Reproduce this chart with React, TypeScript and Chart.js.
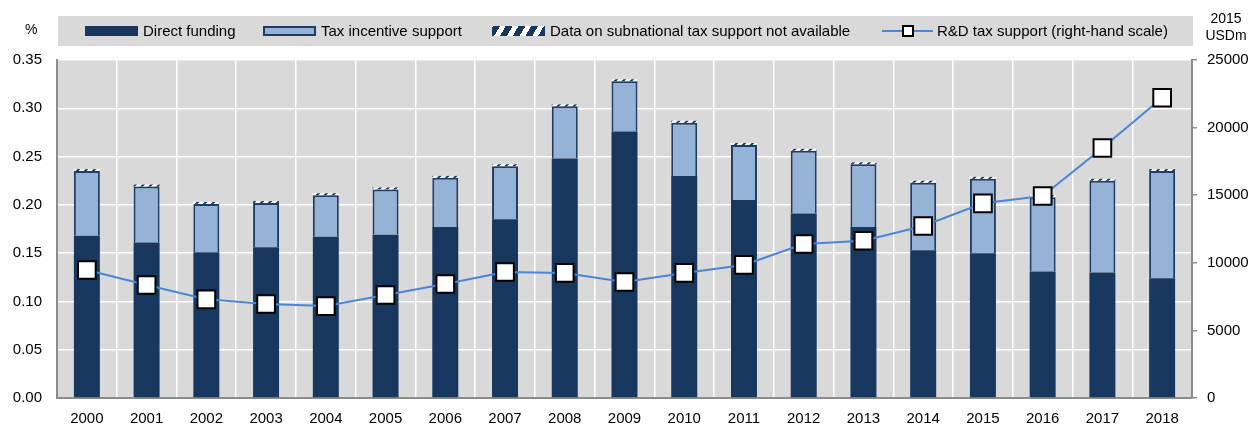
import React, { useEffect, useRef } from "react";
import { Chart, registerables } from "chart.js";

Chart.register(...registerables);

const years = ["2000", "2001", "2002", "2003", "2004", "2005", "2006", "2007", "2008", "2009", "2010", "2011", "2012", "2013", "2014", "2015", "2016", "2017", "2018"];
const directFunding = [0.168, 0.161, 0.151, 0.156, 0.167, 0.169, 0.177, 0.185, 0.248, 0.276, 0.230, 0.205, 0.191, 0.177, 0.153, 0.150, 0.131, 0.130, 0.124];
const taxIncentiveSupport = [0.067, 0.058, 0.050, 0.046, 0.043, 0.047, 0.051, 0.055, 0.054, 0.052, 0.055, 0.057, 0.065, 0.065, 0.070, 0.077, 0.077, 0.095, 0.111];
const subnationalNotAvailable = [0.002, 0.002, 0.002, 0.002, 0.002, 0.002, 0.002, 0.002, 0.002, 0.002, 0.002, 0.002, 0.002, 0.002, 0.002, 0.002, 0.002, 0.002, 0.002];
const rdTaxSupport = [9470, 8360, 7300, 6950, 6800, 7620, 8430, 9320, 9250, 8580, 9250, 9840, 11390, 11630, 12720, 14400, 14940, 18490, 22210];
const leftTicks = { min: 0, max: 0.35, step: 0.05 };
const rightTicks = { min: 0, max: 25000, step: 5000 };

const NAVY = "#17375e";
const LIGHT = "#95b3d7";
const LINE = "#4a86d6";
const FONT = "'Liberation Sans', Arial, sans-serif";

function makeHatch(): CanvasPattern | string {
  const c = document.createElement("canvas");
  c.width = 8;
  c.height = 8;
  const g = c.getContext("2d");
  if (!g) return NAVY;
  g.fillStyle = "#ffffff";
  g.fillRect(0, 0, 8, 8);
  g.strokeStyle = NAVY;
  g.lineWidth = 2;
  g.beginPath();
  g.moveTo(0, 8);
  g.lineTo(8, 0);
  g.moveTo(-4, 4);
  g.lineTo(4, -4);
  g.moveTo(4, 12);
  g.lineTo(12, 4);
  g.stroke();
  const p = g.createPattern(c, "repeat");
  return p || NAVY;
}

const bgPlugin = {
  id: "plotBg",
  beforeDraw(chart: any) {
    const { ctx, chartArea: a } = chart;
    ctx.save();
    ctx.fillStyle = "#d9d9d9";
    ctx.fillRect(a.left, a.top, a.right - a.left, a.bottom - a.top);
    ctx.restore();
  },
};

export default function App() {
  const ref = useRef<HTMLCanvasElement | null>(null);

  useEffect(() => {
    if (!ref.current) return;
    const font = { family: FONT, size: 15 };
    const chart = new Chart(ref.current, {
      type: "bar",
      data: {
        labels: years,
        datasets: [
          {
            type: "line",
            label: "R&D tax support (right-hand scale)",
            data: rdTaxSupport,
            yAxisID: "y1",
            borderColor: LINE,
            borderWidth: 2,
            pointStyle: "rect",
            pointRadius: 12.5,
            pointBackgroundColor: "#ffffff",
            pointBorderColor: "#000000",
            pointBorderWidth: 2,
            tension: 0,
            order: 0,
          } as any,
          {
            label: "Direct funding",
            data: directFunding,
            backgroundColor: NAVY,
            borderColor: NAVY,
            borderWidth: 0,
            yAxisID: "y",
            stack: "s",
            order: 1,
            barPercentage: 0.435,
            categoryPercentage: 1,
          },
          {
            label: "Tax incentive support",
            data: taxIncentiveSupport,
            backgroundColor: LIGHT,
            borderColor: "#1f3c66",
            borderWidth: 2,
            yAxisID: "y",
            stack: "s",
            order: 1,
            barPercentage: 0.435,
            categoryPercentage: 1,
          },
          {
            label: "Data on subnational tax support not available",
            data: subnationalNotAvailable,
            backgroundColor: makeHatch() as any,
            borderWidth: 0,
            yAxisID: "y",
            stack: "s",
            order: 1,
            barPercentage: 0.435,
            categoryPercentage: 1,
          },
        ],
      },
      options: {
        responsive: false,
        animation: false,
        layout: { padding: { top: 60, left: 0, right: 0, bottom: 0 } },
        plugins: {
          legend: { display: false },
          tooltip: { enabled: false },
          title: { display: false },
        },
        scales: {
          x: {
            stacked: true,
            offset: true,
            grid: { offset: true, color: "#ffffff", lineWidth: 1.5, drawTicks: false },
            border: { display: true, color: "#8c8c8c", width: 2 },
            ticks: { color: "#000", font, padding: 12, maxRotation: 0, autoSkip: false },
            afterFit: (s: any) => {
              s.height = 30;
            },
          },
          y: {
            position: "left",
            stacked: true,
            min: leftTicks.min,
            max: leftTicks.max,
            ticks: {
              stepSize: leftTicks.step,
              color: "#000",
              font,
              padding: 15,
              callback: (v: any) => Number(v).toFixed(2),
            },
            grid: { color: "#ffffff", lineWidth: 1.5, drawTicks: false },
            border: { display: true, color: "#8c8c8c", width: 2 },
            afterFit: (s: any) => {
              s.width = 57;
            },
          },
          y1: {
            position: "right",
            min: rightTicks.min,
            max: rightTicks.max,
            ticks: {
              stepSize: rightTicks.step,
              color: "#000",
              font,
              padding: 10,
              callback: (v: any) => String(v),
            },
            grid: { drawOnChartArea: false, drawTicks: true, tickLength: 5, color: "#8c8c8c", lineWidth: 1.5 },
            border: { display: true, color: "#8c8c8c", width: 2 },
            afterFit: (s: any) => {
              s.width = 61;
            },
          },
        },
      } as any,
      plugins: [bgPlugin],
    });
    return () => chart.destroy();
  }, []);

  const txt: React.CSSProperties = {
    position: "absolute",
    top: 16,
    height: 30,
    lineHeight: "30px",
    fontFamily: FONT,
    fontSize: 15,
    color: "#000",
    whiteSpace: "nowrap",
  };

  return (
    <div style={{ position: "fixed", left: 0, top: 0, width: 1253, height: 428, background: "#fff", overflow: "hidden" }}>
      <canvas ref={ref} width={1253} height={428} style={{ position: "absolute", left: 0, top: 0, width: 1253, height: 428 }} />
      <div style={{ position: "absolute", left: 58, top: 16, width: 1135, height: 30, background: "#d9d9d9" }} />
      <div style={{ position: "absolute", left: 85, top: 26, width: 53, height: 10, background: NAVY }} />
      <div style={{ ...txt, left: 143 }}>Direct funding</div>
      <div style={{ position: "absolute", left: 263, top: 26, width: 53, height: 10, background: LIGHT, border: "2px solid #1f3c66", boxSizing: "border-box" }} />
      <div style={{ ...txt, left: 321 }}>Tax incentive support</div>
      <div
        style={{
          position: "absolute",
          left: 492,
          top: 26,
          width: 53,
          height: 10,
          background: `repeating-linear-gradient(-60deg, ${NAVY} 0px, ${NAVY} 6px, #ffffff 6px, #ffffff 11px)`,
        }}
      />
      <div style={{ ...txt, left: 550 }}>Data on subnational tax support not available</div>
      <div style={{ position: "absolute", left: 882, top: 30, width: 51, height: 2, background: LINE }} />
      <div style={{ position: "absolute", left: 902, top: 25, width: 12, height: 12, background: "#fff", border: "2px solid #000", boxSizing: "border-box" }} />
      <div style={{ ...txt, left: 937 }}>R&amp;D tax support (right-hand scale)</div>
      <div style={{ position: "absolute", left: 25, top: 21, fontFamily: FONT, fontSize: 14, lineHeight: "16px" }}>%</div>
      <div style={{ position: "absolute", left: 1196, width: 60, top: 10, textAlign: "center", fontFamily: FONT, fontSize: 14, lineHeight: "17px" }}>
        2015
        <br />
        USDm
      </div>
    </div>
  );
}
